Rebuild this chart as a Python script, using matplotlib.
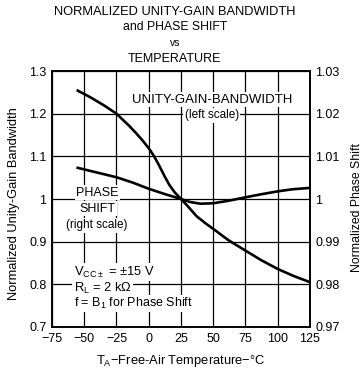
import matplotlib
matplotlib.use("Agg")
import matplotlib.pyplot as plt

plt.rcParams["font.family"] = ["Liberation Sans", "DejaVu Sans"]
plt.rcParams["mathtext.default"] = "regular"

# unity-gain bandwidth, normalized to 25 C (left scale)
temp_ugb = [-55, -45, -35, -25, -15, -10, -5, 0, 4, 8, 12, 16, 20, 25,
            30, 37, 44, 50, 62, 75, 87, 100, 112, 125]
ugb = [1.254, 1.238, 1.220, 1.200, 1.171, 1.155, 1.138, 1.119, 1.101,
       1.079, 1.055, 1.033, 1.016, 1.000, 0.984, 0.960, 0.943, 0.930,
       0.903, 0.879, 0.857, 0.836, 0.820, 0.805]

# phase shift, normalized to 25 C (right scale)
temp_ps = [-55, -40, -25, -12, 0, 12, 25, 32, 40, 50, 62, 75, 87, 100, 112, 125]
phase = [1.0073, 1.0062, 1.0051, 1.0038, 1.0024, 1.0012, 1.0000, 0.9993,
         0.9989, 0.9990, 0.9996, 1.0004, 1.0011, 1.0018, 1.0023, 1.0026]

x_ticks = [-75, -50, -25, 0, 25, 50, 75, 100, 125]
x_labels = ["\u221275", "\u221250", "\u221225", "0", "25", "50", "75", "100", "125"]
left_ticks = [0.7, 0.8, 0.9, 1.0, 1.1, 1.2, 1.3]
left_labels = ["0.7", "0.8", "0.9", "1", "1.1", "1.2", "1.3"]
right_ticks = [0.97, 0.98, 0.99, 1.0, 1.01, 1.02, 1.03]
right_labels = ["0.97", "0.98", "0.99", "1", "1.01", "1.02", "1.03"]

fig = plt.figure(figsize=(3.62, 3.71), dpi=100)
ax = fig.add_axes([0.1436, 0.1186, 0.7127, 0.69])
ax2 = ax.twinx()

ax.set_xlim(-75, 125)
ax.set_ylim(0.7, 1.3)
ax2.set_ylim(0.97, 1.03)

ax.set_xticks(x_ticks)
ax.set_xticklabels(x_labels)
ax.set_yticks(left_ticks)
ax.set_yticklabels(left_labels)
ax2.set_yticks(right_ticks)
ax2.set_yticklabels(right_labels)

for a in (ax, ax2):
    a.tick_params(length=0, labelsize=9, pad=4)
    for s in a.spines.values():
        s.set_linewidth(1.2)

ax.grid(True, color="black", linewidth=0.9)
ax.set_axisbelow(True)

ax.plot(temp_ugb, ugb, color="black", linewidth=1.9, zorder=3)
ax2.plot(temp_ps, phase, color="black", linewidth=1.9, zorder=3)

box = dict(facecolor="white", edgecolor="none", pad=1.0)
ax.text(49, 1.233, "UNITY-GAIN-BANDWIDTH", ha="center", va="center",
        fontsize=9.5, bbox=box, zorder=4)
ax.text(49, 1.196, "(left scale)", ha="center", va="center",
        fontsize=8.5, bbox=box, zorder=4)
ax.text(-40, 1.015, "PHASE", ha="center", va="center", fontsize=9, bbox=box, zorder=4)
ax.text(-40, 0.977, "SHIFT", ha="center", va="center", fontsize=9, bbox=box, zorder=4)
ax.text(-40, 0.938, "(right scale)", ha="center", va="center", fontsize=8.5,
        bbox=box, zorder=4)

ax.text(-58, 0.828, r"V$_{CC\pm}$ = $\pm$15 V", ha="left", va="center",
        fontsize=9.3, bbox=box, zorder=4)
ax.text(-58, 0.791, r"R$_L$ = 2 k$\Omega$", ha="left", va="center",
        fontsize=9.3, bbox=box, zorder=4)
ax.text(-58, 0.755, r"f = B$_1$ for Phase Shift", ha="left", va="center",
        fontsize=9, bbox=box, zorder=4)

ax.set_xlabel(r"T$_A$$-$Free-Air Temperature$-$°C", fontsize=9.3, labelpad=6)
fig.text(0.040, 0.45, "Normalized Unity-Gain Bandwidth", rotation=90,
         ha="center", va="center", fontsize=9.3)
fig.text(0.985, 0.44, "Normalized Phase Shift", rotation=90,
         ha="center", va="center", fontsize=8.8)

fig.text(0.483, 0.968, "NORMALIZED UNITY-GAIN BANDWIDTH", ha="center", va="center", fontsize=9.3)
fig.text(0.483, 0.927, "and PHASE SHIFT", ha="center", va="center", fontsize=8.8)
fig.text(0.483, 0.885, "vs", ha="center", va="center", fontsize=7.5)
fig.text(0.483, 0.841, "TEMPERATURE", ha="center", va="center", fontsize=9)

fig.savefig("out.png", dpi=100)
